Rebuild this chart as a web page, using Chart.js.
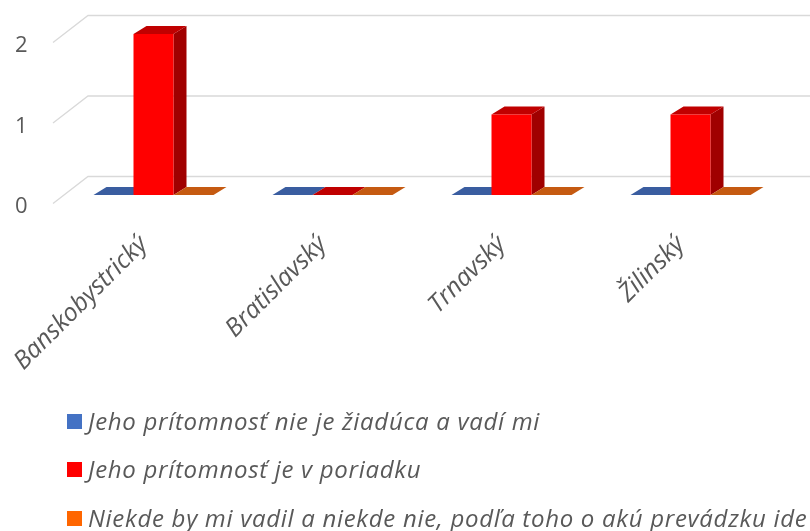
<!DOCTYPE html>
<html><head><meta charset="utf-8">
<script src="https://cdn.jsdelivr.net/npm/chart.js@4"></script>
<style>
html,body{margin:0;padding:0;background:#fff;}
#wrap{position:relative;width:810px;height:531px;overflow:hidden;background:#fff;}
#c{position:absolute;left:0;top:0;}
#legend{position:absolute;left:67px;top:0;font-family:'Open Sans',sans-serif;font-style:italic;font-size:24px;letter-spacing:0.7px;color:#595959;}
.item{position:absolute;left:0;white-space:nowrap;display:flex;align-items:center;height:30px;line-height:30px;}
.sw{width:15px;height:15px;margin-right:6px;flex:none;}
</style></head><body>
<div id="wrap"><canvas id="c" width="810" height="531"></canvas><div id="legend"></div></div>
<script>
const categories = ['Banskobystrický', 'Bratislavský', 'Trnavský', 'Žilinský'];
const seriesNames = [
  'Jeho prítomnosť nie je žiadúca a vadí mi',
  'Jeho prítomnosť je v poriadku',
  'Niekde by mi vadil a niekde nie, podľa toho o akú prevádzku ide'
];
const seriesNotWanted = [0, 0, 0, 0];
const seriesOk = [2, 0, 1, 1];
const seriesDepends = [0, 0, 0, 0];
const yTicks = [0, 1, 2];

const frontColors = ['#4472C4', '#FF0000', '#FF6600'];
const topColors = ['#3A5DA0', '#C00000', '#C55A11'];
const sideColors = ['#2E4A80', '#A00000', '#9E4A10'];

const DX = 13, DY = 8;
const threeD = {
  id: 'threeD',
  beforeDatasetsDraw(chart) {
    const ctx = chart.ctx, ys = chart.scales.y, area = chart.chartArea;
    ctx.save();
    ctx.strokeStyle = '#D9D9D9';
    ctx.lineWidth = 1.3;
    yTicks.forEach(v => {
      const y = ys.getPixelForValue(v);
      ctx.beginPath();
      ctx.moveTo(area.left - 11, y + 8.5);
      ctx.lineTo(area.left + 24, y - 18.5);
      ctx.lineTo(chart.width, y - 18.5);
      ctx.stroke();
    });
    for (let i = 0; i < categories.length; i++) {
      chart.data.datasets.forEach((ds, d) => {
        const meta = chart.getDatasetMeta(d);
        const el = meta.data[i];
        if (!el) return;
        const p = el.getProps(['x', 'y', 'base', 'width'], true);
        const l = p.x - p.width / 2, r = p.x + p.width / 2;
        if (p.base - p.y > 0.5) {
          ctx.fillStyle = sideColors[d];
          ctx.beginPath();
          ctx.moveTo(r, p.base); ctx.lineTo(r + DX, p.base - DY);
          ctx.lineTo(r + DX, p.y - DY); ctx.lineTo(r, p.y);
          ctx.closePath(); ctx.fill();
        }
        ctx.fillStyle = topColors[d];
        ctx.beginPath();
        ctx.moveTo(l, p.y); ctx.lineTo(r, p.y);
        ctx.lineTo(r + DX, p.y - DY); ctx.lineTo(l + DX, p.y - DY);
        ctx.closePath(); ctx.fill();
      });
    }
    ctx.restore();
  }
};

const seriesData = [seriesNotWanted, seriesOk, seriesDepends];

new Chart(document.getElementById('c'), {
  type: 'bar',
  data: {
    labels: categories,
    datasets: seriesData.map((arr, d) => ({
      label: seriesNames[d], data: arr, backgroundColor: frontColors[d], borderWidth: 0
    }))
  },
  plugins: [threeD],
  options: {
    responsive: false,
    animation: false,
    layout: { padding: { top: 34, right: 30, left: 15, bottom: 0 } },
    plugins: { legend: { display: false }, tooltip: { enabled: false } },
    datasets: { bar: { categoryPercentage: 120 / 179, barPercentage: 1 } },
    scales: {
      x: {
        grid: { display: false, drawTicks: false }, border: { display: false },
        ticks: { minRotation: 45, maxRotation: 45, autoSkip: false, padding: 35, labelOffset: -10,
                 color: '#595959', font: { family: 'Open Sans', style: 'italic', size: 25 } },
        afterFit(s) { s.height = 531 - 195; s.paddingLeft = 0; s.paddingRight = 0; }
      },
      y: {
        min: 0, max: 2,
        grid: { display: false, drawTicks: false }, border: { display: false },
        ticks: { stepSize: 1, padding: 0, crossAlign: 'far', labelOffset: 12, color: '#595959',
                 font: { family: 'Open Sans', size: 22 } },
        afterFit(s) { s.width = 49; s.paddingTop = 0; s.paddingBottom = 0; }
      }
    }
  }
});

const legend = document.getElementById('legend');
const rowCenters = [421, 469, 518];
seriesNames.forEach((name, d) => {
  const item = document.createElement('div');
  item.className = 'item';
  item.style.top = (rowCenters[d] - 15) + 'px';
  const sw = document.createElement('span');
  sw.className = 'sw';
  sw.style.background = frontColors[d];
  const t = document.createElement('span');
  t.textContent = name;
  item.appendChild(sw); item.appendChild(t);
  legend.appendChild(item);
});
</script>
</body></html>
